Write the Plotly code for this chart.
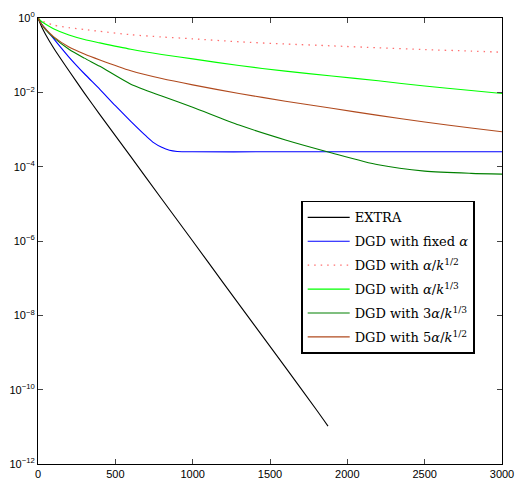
import plotly.graph_objects as go

# iterations (k) and log10 of the error
extra_k = [0, 25, 50, 100, 200, 300, 400, 600, 800, 1000, 1200, 1400, 1600, 1800, 1875]
extra_log = [0, -0.25, -0.45, -0.8, -1.42, -2.02, -2.6, -3.73, -4.87, -6.0, -7.14, -8.27, -9.4, -10.54, -10.98]

blue_k = [0, 25, 50, 100, 200, 300, 400, 500, 600, 700, 750, 800, 850, 900, 1000, 1500, 2000, 2500, 3000]
blue_log = [0, -0.17, -0.3, -0.55, -1.05, -1.5, -1.92, -2.36, -2.78, -3.18, -3.36, -3.48, -3.56, -3.59, -3.6, -3.6, -3.6, -3.6, -3.6]

k_dgd = [0, 25, 50, 100, 200, 300, 400, 600, 800, 1000, 1300, 1600, 1900, 2200, 2500, 2800, 3000]
pink_log = [0, -0.08, -0.12, -0.19, -0.26, -0.31, -0.36, -0.45, -0.51, -0.56, -0.64, -0.7, -0.75, -0.8, -0.85, -0.89, -0.92]
lgreen_log = [0, -0.1, -0.17, -0.29, -0.46, -0.58, -0.67, -0.84, -0.98, -1.1, -1.28, -1.43, -1.56, -1.69, -1.83, -1.95, -2.03]
dgreen_log = [0, -0.18, -0.32, -0.52, -0.84, -1.08, -1.3, -1.78, -2.1, -2.4, -2.88, -3.28, -3.63, -3.95, -4.12, -4.18, -4.2]
brown_log = [0, -0.18, -0.3, -0.5, -0.78, -0.97, -1.13, -1.42, -1.63, -1.8, -2.03, -2.24, -2.43, -2.62, -2.8, -2.96, -3.06]

ytick_vals = [1e0, 1e-2, 1e-4, 1e-6, 1e-8, 1e-10, 1e-12]
ytick_text = ["10<sup>0</sup>", "10<sup>−2</sup>", "10<sup>−4</sup>", "10<sup>−6</sup>",
              "10<sup>−8</sup>", "10<sup>−10</sup>", "10<sup>−12</sup>"]
xtick_vals = [0, 500, 1000, 1500, 2000, 2500, 3000]

def v(lst):
    return [10 ** d for d in lst]

fig = go.Figure()
series = [
    (extra_k, extra_log, "EXTRA", "black", "solid", 1.1),
    (blue_k, blue_log, "DGD with fixed <i>α</i>", "#0000ff", "solid", 1.1),
    (k_dgd, pink_log, "DGD with <i>α</i>/<i>k</i><sup>1/2</sup>", "#ff7070", "1.5px,5px", 1.3),
    (k_dgd, lgreen_log, "DGD with <i>α</i>/<i>k</i><sup>1/3</sup>", "#00ff00", "solid", 1.1),
    (k_dgd, dgreen_log, "DGD with 3<i>α</i>/<i>k</i><sup>1/3</sup>", "#008000", "solid", 1.1),
    (k_dgd, brown_log, "DGD with 5<i>α</i>/<i>k</i><sup>1/2</sup>", "#b04a1e", "solid", 1.1),
]
for i, (xs, ys, name, col, dash, w) in enumerate(series):
    fig.add_trace(go.Scatter(x=xs, y=v(ys), mode="lines", name=name, legendgroup=f"g{i}",
                             line=dict(color=col, width=w, dash=dash, shape="spline", smoothing=0.7)))

fig.update_layout(
    width=517, height=484,
    margin=dict(l=38, r=15, t=18, b=20),
    plot_bgcolor="white", paper_bgcolor="white",
    font=dict(family="Liberation Sans, Arial", size=11, color="black"),
    showlegend=True,
    legend=dict(x=0.567, y=0.59, xanchor="left", yanchor="top",
                bgcolor="white", bordercolor="black", borderwidth=1.6,
                font=dict(family="DejaVu Serif", size=13, color="black"),
                itemwidth=42, tracegroupgap=4),
)
fig.update_xaxes(range=[0, 3000], tickvals=xtick_vals, ticks="inside", ticklen=5,
                 showline=True, linecolor="black", linewidth=1.2, mirror="ticks",
                 showgrid=False, zeroline=False, tickfont=dict(size=11), automargin=False)
fig.update_yaxes(type="log", range=[-12, 0], tickvals=ytick_vals, ticktext=ytick_text,
                 ticks="inside", ticklen=5, showline=True, linecolor="black", linewidth=1.2,
                 mirror="ticks", showgrid=False, zeroline=False, tickfont=dict(size=11),
                 automargin=False)

fig.write_html("out.html", config={"displayModeBar": False},
               post_script="document.body.style.margin='0';")
